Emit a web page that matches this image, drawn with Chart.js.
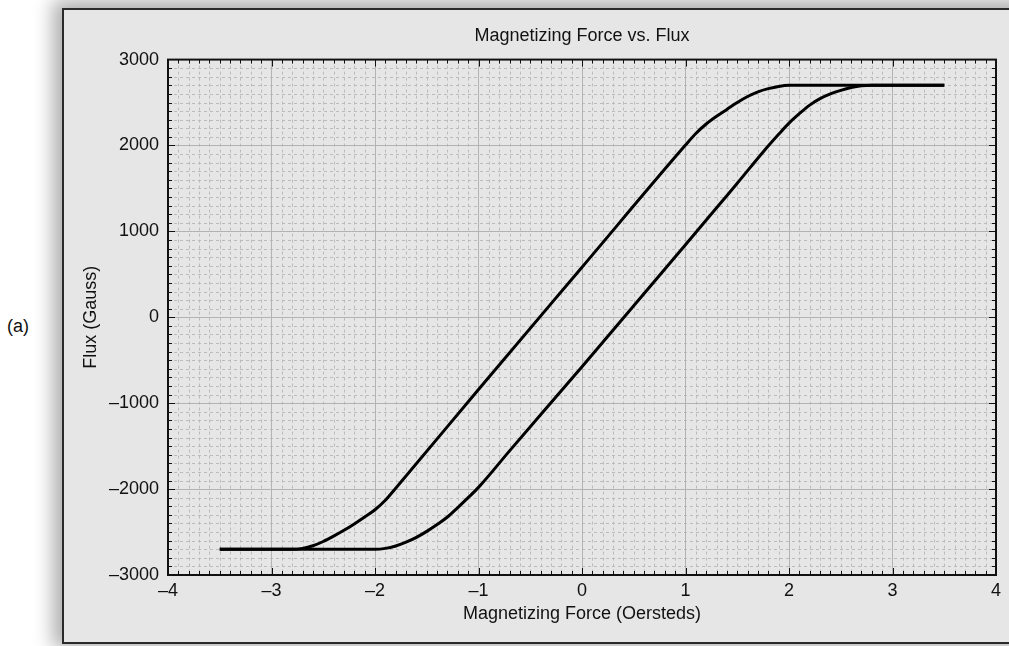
<!DOCTYPE html>
<html>
<head>
<meta charset="utf-8">
<script src="https://cdn.jsdelivr.net/npm/chart.js@4.4.0/dist/chart.umd.min.js"></script>
<style>
  html, body { margin: 0; padding: 0; background: #fff; width: 1009px; height: 646px; overflow: hidden; font-family: 'Liberation Sans', Arial, sans-serif; }
  #frame { position: absolute; left: 62px; top: 8px; width: 1000px; height: 632px; background: #e6e6e6; border: 2px solid #2a2a2a; box-shadow: -3px -2px 18px 6px rgba(0,0,0,0.32); }
  #tag { position: absolute; left: 7px; top: 316px; font-size: 18px; color: #111; }
  #wrap { position: absolute; left: 0; top: 0; width: 1009px; height: 646px; }
</style>
</head>
<body>
<div id="frame"></div>
<div id="tag">(a)</div>
<div id="wrap"><canvas id="c" width="1009" height="646"></canvas></div>
<script>
const TITLE = 'Magnetizing Force vs. Flux';
const X_TITLE = 'Magnetizing Force (Oersteds)';
const Y_TITLE = 'Flux (Gauss)';

// axis limits / steps
const X_MIN = -4, X_MAX = 4, X_STEP = 1, X_MINOR_PER = 10;
const Y_MIN = -3000, Y_MAX = 3000, Y_STEP = 1000, Y_MINOR_PER = 10;

// upper branch (left curve)
const upperX = [-3.5, -2.8, -2.7, -2.6, -2.5, -2.4, -2.3, -2.2, -2.1, -2.0, -1.9, -1.8, -1.0, 0, 1.0, 1.1, 1.2, 1.3, 1.4, 1.5, 1.6, 1.7, 1.8, 1.9, 2.0, 3.5];
const upperY = [-2700, -2700, -2690, -2660, -2610, -2548, -2480, -2405, -2325, -2240, -2130, -1990, -840, 583, 2005, 2140, 2250, 2340, 2420, 2500, 2570, 2625, 2662, 2688, 2700, 2700];

// lower branch (right curve)
const lowerX = [-3.5, -2.0, -1.9, -1.8, -1.7, -1.6, -1.5, -1.4, -1.3, -1.2, -1.1, -1.0, -0.7, 0, 1.0, 1.36, 1.5, 1.75, 1.9, 2.0, 2.1, 2.2, 2.3, 2.4, 2.5, 2.6, 2.7, 2.8, 3.5];
const lowerY = [-2700, -2700, -2690, -2662, -2618, -2562, -2492, -2412, -2325, -2215, -2100, -1980, -1555, -575, 845, 1360, 1560, 1925, 2130, 2260, 2370, 2470, 2545, 2600, 2642, 2675, 2695, 2700, 2700];

const toPoints = (xs, ys) => xs.map((x, i) => ({ x, y: ys[i] }));
const fmt = v => (v < 0 ? '\u2013' + Math.abs(v) : String(v));
const FONT = "'Liberation Sans', Arial, sans-serif";

const gridPlugin = {
  id: 'gridPlugin',
  beforeDraw(chart) {
    const { ctx, chartArea: a, scales: { x, y } } = chart;
    ctx.save();
    ctx.strokeStyle = '#bbbbbb';
    ctx.lineWidth = 1;
    ctx.setLineDash([3, 3]);
    ctx.beginPath();
    const nx = (X_MAX - X_MIN) / X_STEP * X_MINOR_PER;
    for (let i = 1; i < nx; i++) {
      if (i % X_MINOR_PER === 0) continue;
      const px = Math.round(x.getPixelForValue(X_MIN + i * X_STEP / X_MINOR_PER)) + 0.5;
      ctx.moveTo(px, a.top); ctx.lineTo(px, a.bottom);
    }
    const ny = (Y_MAX - Y_MIN) / Y_STEP * Y_MINOR_PER;
    for (let i = 1; i < ny; i++) {
      if (i % Y_MINOR_PER === 0) continue;
      const py = Math.round(y.getPixelForValue(Y_MIN + i * Y_STEP / Y_MINOR_PER)) + 0.5;
      ctx.moveTo(a.left, py); ctx.lineTo(a.right, py);
    }
    ctx.stroke();
    ctx.restore();
  },
  afterDatasetsDraw(chart) {
    const { ctx, chartArea: a, scales: { x, y } } = chart;
    ctx.save();
    ctx.strokeStyle = '#111';
    ctx.lineWidth = 1;
    ctx.beginPath();
    const nx = (X_MAX - X_MIN) / X_STEP * X_MINOR_PER;
    for (let i = 1; i < nx; i++) {
      const len = i % X_MINOR_PER === 0 ? 7 : 4;
      const px = Math.round(x.getPixelForValue(X_MIN + i * X_STEP / X_MINOR_PER)) + 0.5;
      ctx.moveTo(px, a.bottom); ctx.lineTo(px, a.bottom - len);
      ctx.moveTo(px, a.top); ctx.lineTo(px, a.top + len);
    }
    const ny = (Y_MAX - Y_MIN) / Y_STEP * Y_MINOR_PER;
    for (let i = 1; i < ny; i++) {
      const len = i % Y_MINOR_PER === 0 ? 7 : 4;
      const py = Math.round(y.getPixelForValue(Y_MIN + i * Y_STEP / Y_MINOR_PER)) + 0.5;
      ctx.moveTo(a.left, py); ctx.lineTo(a.left + len, py);
      ctx.moveTo(a.right, py); ctx.lineTo(a.right - len, py);
    }
    ctx.stroke();
    ctx.lineWidth = 2;
    ctx.strokeRect(a.left, a.top, a.right - a.left, a.bottom - a.top);
    ctx.restore();
  }
};

const line = (data) => ({
  data,
  showLine: true,
  borderColor: '#000',
  borderWidth: 3,
  pointRadius: 0,
  cubicInterpolationMode: 'monotone',
  borderJoinStyle: 'round',
});

new Chart(document.getElementById('c').getContext('2d'), {
  type: 'scatter',
  data: {
    datasets: [
      line(toPoints(upperX, upperY)),
      line(toPoints(lowerX, lowerY)),
    ],
  },
  plugins: [gridPlugin],
  options: {
    responsive: false,
    animation: false,
    layout: { padding: { left: 80, right: 13, top: 25, bottom: 20 } },
    plugins: {
      legend: { display: false },
      tooltip: { enabled: false },
      title: {
        display: true,
        text: TITLE,
        fullSize: false,
        color: '#111',
        font: { family: FONT, size: 18, weight: 'normal' },
        padding: { top: 0, bottom: 13 },
      },
    },
    scales: {
      x: {
        type: 'linear',
        min: X_MIN, max: X_MAX,
        afterFit: s => { s.height = 51; },
        border: { display: false },
        grid: { color: '#b3b3b3', lineWidth: 1, drawTicks: false },
        ticks: {
          stepSize: X_STEP, padding: 5, color: '#111',
          font: { family: FONT, size: 18 },
          callback: v => fmt(v),
        },
        title: {
          display: true, text: X_TITLE, color: '#111',
          font: { family: FONT, size: 18 },
          padding: { top: 0, bottom: 1 },
        },
      },
      y: {
        type: 'linear',
        min: Y_MIN, max: Y_MAX,
        afterFit: s => { s.width = 88; },
        border: { display: false },
        grid: { color: '#b3b3b3', lineWidth: 1, drawTicks: false },
        ticks: {
          stepSize: Y_STEP, padding: 9, color: '#111',
          font: { family: FONT, size: 18 },
          callback: v => fmt(v),
        },
        title: {
          display: true, text: Y_TITLE, color: '#111',
          font: { family: FONT, size: 18 },
          padding: { top: 0, bottom: 0 },
        },
      },
    },
  },
});
</script>
</body>
</html>
